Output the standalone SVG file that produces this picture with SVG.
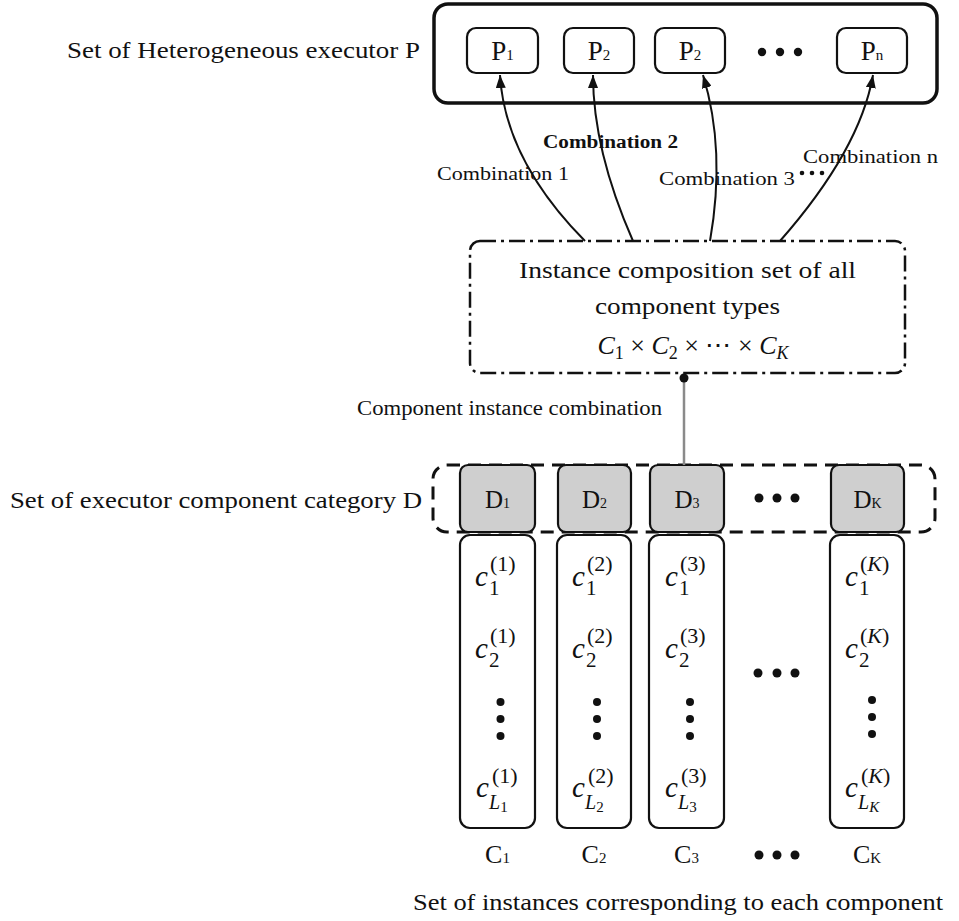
<svg xmlns="http://www.w3.org/2000/svg" width="959" height="921" viewBox="0 0 959 921">
<defs>
<style>
.t{font-family:"Liberation Serif","Times New Roman",serif;fill:#111}
.m{font-family:"Liberation Serif","Times New Roman",serif;fill:#111}
.i{font-style:italic}
.box{fill:#fff;stroke:#111;stroke-width:2.2}
.dbox{fill:#cfcfcf;stroke:#111;stroke-width:2.2}
.col{fill:#fff;stroke:#111;stroke-width:2.2}
.arc{fill:none;stroke:#111;stroke-width:2}
.dot{fill:#111}
</style>
<marker id="ah" markerUnits="userSpaceOnUse" markerWidth="14" markerHeight="10" refX="13" refY="5" orient="auto">
<path d="M0,0 L13,5 L0,10 z" fill="#111"/>
</marker>
</defs>
<rect width="959" height="921" fill="#fff"/>

<!-- Executor set P -->
<g id="setP">
<text class="t" x="67" y="58" font-size="24" textLength="353" lengthAdjust="spacingAndGlyphs">Set of Heterogeneous executor P</text>
<rect x="434" y="4" width="503" height="99" rx="14" fill="#fff" stroke="#111" stroke-width="3.5"/>
</g>
<g id="P1"><rect class="box" x="467" y="28" width="71" height="45" rx="9"/><text class="t" x="502.5" y="60" font-size="27" text-anchor="middle">P<tspan font-size="15">1</tspan></text></g>
<g id="P2"><rect class="box" x="564" y="28" width="70" height="45" rx="9"/><text class="t" x="599" y="60" font-size="27" text-anchor="middle">P<tspan font-size="15">2</tspan></text></g>
<g id="P3"><rect class="box" x="655" y="28" width="70" height="45" rx="9"/><text class="t" x="690" y="60" font-size="27" text-anchor="middle">P<tspan font-size="15">2</tspan></text></g>
<g id="Pdots"><circle class="dot" cx="762" cy="52" r="4.2"/><circle class="dot" cx="780" cy="52" r="4.2"/><circle class="dot" cx="798" cy="52" r="4.2"/></g>
<g id="Pn"><rect class="box" x="837" y="28" width="70" height="45" rx="9"/><text class="t" x="872" y="60" font-size="27" text-anchor="middle">P<tspan font-size="15">n</tspan></text></g>

<!-- Composition set -->
<g id="composition">
<rect x="470" y="241" width="435" height="132" rx="10" fill="#fff" stroke="#111" stroke-width="2.5" stroke-dasharray="16 5 3 5"/>
<text class="t" x="519" y="278" font-size="24" textLength="337" lengthAdjust="spacingAndGlyphs">Instance composition set of all</text>
<text class="t" x="595" y="314" font-size="24" textLength="185" lengthAdjust="spacingAndGlyphs">component types</text>
<text class="m" x="693" y="354" font-size="26" text-anchor="middle"><tspan class="i">C</tspan><tspan font-size="18" dy="5">1</tspan><tspan dy="-5"> × </tspan><tspan class="i">C</tspan><tspan font-size="18" dy="5">2</tspan><tspan dy="-5"> × ⋯ × </tspan><tspan class="i">C</tspan><tspan class="i" font-size="18" dy="5">K</tspan></text>
</g>

<!-- D category set -->
<g id="setD">
<text class="t" x="10" y="508" font-size="24" textLength="412" lengthAdjust="spacingAndGlyphs">Set of executor component category D</text>
<rect x="433" y="465" width="502" height="67" rx="14" fill="none" stroke="#111" stroke-width="3" stroke-dasharray="13 8"/>
</g>
<g id="D1"><rect class="dbox" x="460" y="465" width="75" height="67" rx="8"/><text class="t" x="497.5" y="508" font-size="25" text-anchor="middle">D<tspan font-size="14">1</tspan></text></g>
<g id="D2"><rect class="dbox" x="558" y="465" width="73" height="67" rx="8"/><text class="t" x="594.5" y="508" font-size="25" text-anchor="middle">D<tspan font-size="14">2</tspan></text></g>
<g id="D3"><rect class="dbox" x="650" y="465" width="74" height="67" rx="8"/><text class="t" x="687" y="508" font-size="25" text-anchor="middle">D<tspan font-size="14">3</tspan></text></g>
<g id="Ddots"><circle class="dot" cx="759" cy="498" r="4.5"/><circle class="dot" cx="777" cy="498" r="4.5"/><circle class="dot" cx="795" cy="498" r="4.5"/></g>
<g id="DK"><rect class="dbox" x="831" y="465" width="73" height="67" rx="8"/><text class="t" x="867.5" y="508" font-size="25" text-anchor="middle">D<tspan font-size="14">K</tspan></text></g>

<!-- Instance columns -->
<g id="C1col">
<rect class="col" x="460" y="535" width="75" height="293" rx="10"/>
<text class="m" font-size="29"><tspan class="i" x="475" y="586">c</tspan><tspan font-size="21" x="489" y="595">1</tspan><tspan font-size="22" x="490" y="571">(1)</tspan></text>
<text class="m" font-size="29"><tspan class="i" x="475" y="658">c</tspan><tspan font-size="21" x="489" y="667">2</tspan><tspan font-size="22" x="490" y="643">(1)</tspan></text>
<circle class="dot" cx="500.5" cy="702" r="4"/><circle class="dot" cx="500.5" cy="719" r="4"/><circle class="dot" cx="500.5" cy="736" r="4"/>
<text class="m" font-size="29"><tspan class="i" x="476" y="797">c</tspan><tspan class="i" font-size="20" x="489" y="809">L</tspan><tspan font-size="15" dy="3">1</tspan><tspan font-size="22" x="492" y="783">(1)</tspan></text>
<text class="t" x="497.5" y="863" font-size="26" text-anchor="middle">C<tspan font-size="15">1</tspan></text>
</g>
<g id="C2col">
<rect class="col" x="557" y="535" width="74" height="293" rx="10"/>
<text class="m" font-size="29"><tspan class="i" x="572" y="586">c</tspan><tspan font-size="21" x="586" y="595">1</tspan><tspan font-size="22" x="587" y="571">(2)</tspan></text>
<text class="m" font-size="29"><tspan class="i" x="572" y="658">c</tspan><tspan font-size="21" x="586" y="667">2</tspan><tspan font-size="22" x="587" y="643">(2)</tspan></text>
<circle class="dot" cx="597" cy="702" r="4"/><circle class="dot" cx="597" cy="719" r="4"/><circle class="dot" cx="597" cy="736" r="4"/>
<text class="m" font-size="29"><tspan class="i" x="572" y="797">c</tspan><tspan class="i" font-size="20" x="585" y="809">L</tspan><tspan font-size="15" dy="3">2</tspan><tspan font-size="22" x="588" y="783">(2)</tspan></text>
<text class="t" x="594" y="863" font-size="26" text-anchor="middle">C<tspan font-size="15">2</tspan></text>
</g>
<g id="C3col">
<rect class="col" x="649" y="535" width="75" height="293" rx="10"/>
<text class="m" font-size="29"><tspan class="i" x="665" y="586">c</tspan><tspan font-size="21" x="679" y="595">1</tspan><tspan font-size="22" x="680" y="571">(3)</tspan></text>
<text class="m" font-size="29"><tspan class="i" x="665" y="658">c</tspan><tspan font-size="21" x="679" y="667">2</tspan><tspan font-size="22" x="680" y="643">(3)</tspan></text>
<circle class="dot" cx="690" cy="702" r="4"/><circle class="dot" cx="690" cy="719" r="4"/><circle class="dot" cx="690" cy="736" r="4"/>
<text class="m" font-size="29"><tspan class="i" x="665" y="797">c</tspan><tspan class="i" font-size="20" x="678" y="809">L</tspan><tspan font-size="15" dy="3">3</tspan><tspan font-size="22" x="681" y="783">(3)</tspan></text>
<text class="t" x="686.5" y="863" font-size="26" text-anchor="middle">C<tspan font-size="15">3</tspan></text>
</g>
<g id="middots">
<circle class="dot" cx="758" cy="673" r="4.5"/><circle class="dot" cx="777" cy="673" r="4.5"/><circle class="dot" cx="795" cy="673" r="4.5"/>
<circle class="dot" cx="759" cy="855" r="4.5"/><circle class="dot" cx="777" cy="855" r="4.5"/><circle class="dot" cx="795" cy="855" r="4.5"/>
</g>
<g id="CKcol">
<rect class="col" x="830" y="535" width="74" height="293" rx="10"/>
<text class="m" font-size="29"><tspan class="i" x="845" y="586">c</tspan><tspan font-size="21" x="859" y="595">1</tspan><tspan font-size="22" x="860" y="571">(<tspan class="i">K</tspan>)</tspan></text>
<text class="m" font-size="29"><tspan class="i" x="845" y="658">c</tspan><tspan font-size="21" x="859" y="667">2</tspan><tspan font-size="22" x="860" y="643">(<tspan class="i">K</tspan>)</tspan></text>
<circle class="dot" cx="872" cy="700" r="4"/><circle class="dot" cx="872" cy="717" r="4"/><circle class="dot" cx="872" cy="734" r="4"/>
<text class="m" font-size="29"><tspan class="i" x="845" y="797">c</tspan><tspan class="i" font-size="20" x="858" y="809">L</tspan><tspan class="i" font-size="15" dy="3">K</tspan><tspan font-size="22" x="861" y="783">(<tspan class="i">K</tspan>)</tspan></text>
<text class="t" x="867" y="863" font-size="26" text-anchor="middle">C<tspan font-size="15">K</tspan></text>
</g>
<text class="t" x="413" y="910" font-size="24" textLength="530" lengthAdjust="spacingAndGlyphs">Set of instances corresponding to each component</text>

<!-- Connectors -->
<g id="connectors">
<path class="arc" d="M585,241 Q505,160 500,75" marker-end="url(#ah)"/>
<path class="arc" d="M633,241 Q593,150 593,75" marker-end="url(#ah)"/>
<path class="arc" d="M710,241 Q726,150 703,75" marker-end="url(#ah)"/>
<path class="arc" d="M780,241 Q860,150 873,75" marker-end="url(#ah)"/>
<line x1="684" y1="378" x2="684" y2="465" stroke="#8a8a8a" stroke-width="2.5"/>
<circle cx="684" cy="378" r="4.5" fill="#111"/>
<text class="t" x="437" y="180" font-size="19" textLength="132" lengthAdjust="spacingAndGlyphs">Combination 1</text>
<text class="t" x="543" y="148" font-size="18" font-weight="bold" textLength="135" lengthAdjust="spacingAndGlyphs">Combination 2</text>
<text class="t" x="659" y="185" font-size="19" textLength="136" lengthAdjust="spacingAndGlyphs">Combination 3</text>
<circle class="dot" cx="802" cy="173" r="2.3"/><circle class="dot" cx="812" cy="173" r="2.3"/><circle class="dot" cx="822" cy="173" r="2.3"/>
<text class="t" x="803" y="163" font-size="19" textLength="135" lengthAdjust="spacingAndGlyphs">Combination n</text>
<text class="t" x="357" y="415" font-size="20" textLength="305" lengthAdjust="spacingAndGlyphs">Component instance combination</text>
</g>
</svg>
